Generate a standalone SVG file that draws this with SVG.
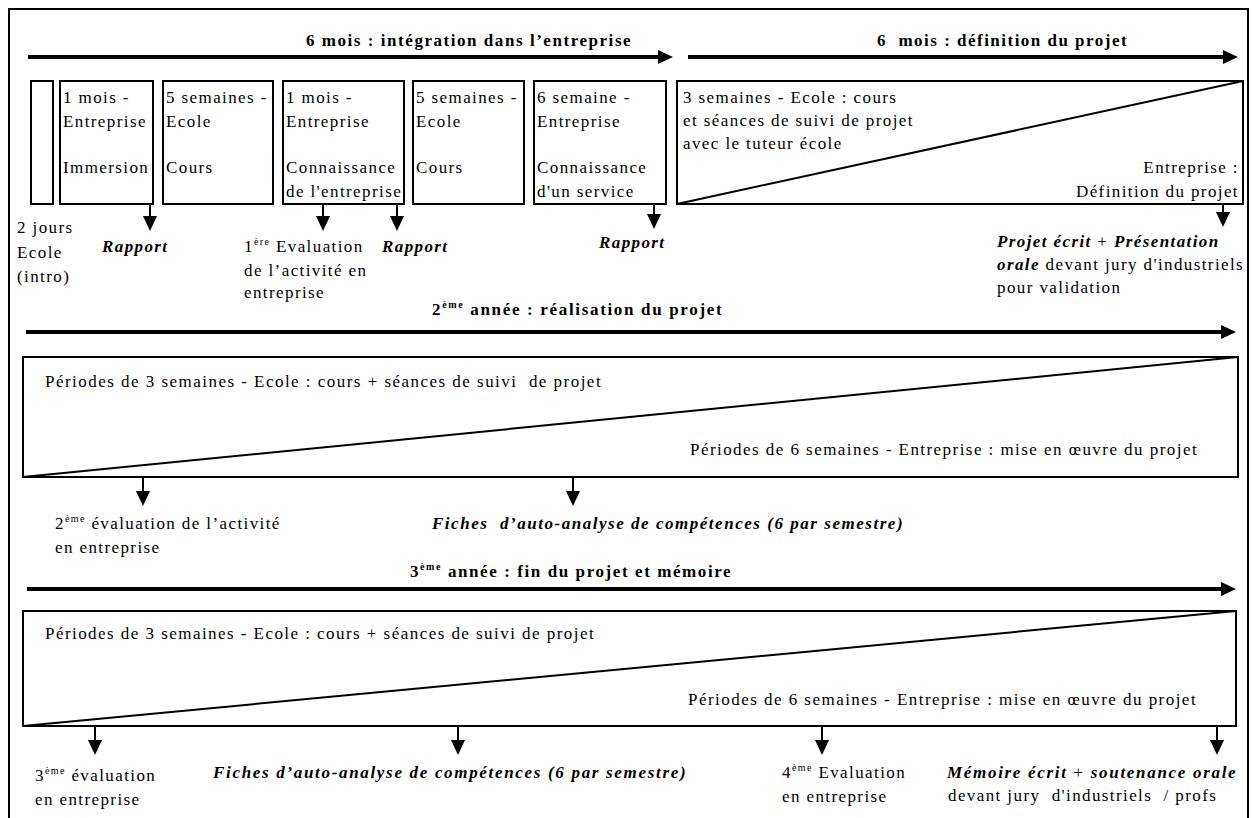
<svg xmlns="http://www.w3.org/2000/svg" width="1253" height="818" viewBox="0 0 1253 818">
<style>
text{font-family:"Liberation Serif","Times New Roman",serif;font-size:17px;fill:#000;letter-spacing:1.4px;white-space:pre}
.b{font-weight:bold}
.bi{font-weight:bold;font-style:italic}
.r{font-weight:normal;font-style:normal}
.sup{font-size:10px}
.e{text-anchor:end}
.box{fill:#fff;stroke:#000;stroke-width:2}
.diag{stroke:#000;stroke-width:2;fill:none}
.tl{stroke:#000;stroke-width:4;fill:none;marker-end:url(#ah)}
.dn{stroke:#000;stroke-width:2;fill:none;marker-end:url(#ah)}
</style>
<defs>
<marker id="ah" viewBox="0 0 15 14" refX="5" refY="7" markerWidth="15" markerHeight="14" markerUnits="userSpaceOnUse" orient="auto"><path d="M0,0L15,7L0,14z" fill="#000"/></marker>
</defs>
<rect x="0" y="0" width="1253" height="818" fill="#fff"/>
<rect id="frame" x="9" y="9" width="1239" height="830" fill="none" stroke="#000" stroke-width="2"/>

<g id="connectors">
<path class="tl" d="M28,57H663"/>
<path class="tl" d="M688,57H1228"/>
<path class="tl" d="M26,332H1226"/>
<path class="tl" d="M27,589H1226"/>
<path class="dn" d="M150,204V221"/>
<path class="dn" d="M323,204V221"/>
<path class="dn" d="M397,204V221"/>
<path class="dn" d="M654,204V219"/>
<path class="dn" d="M1223,204V217"/>
<path class="dn" d="M143,477V496"/>
<path class="dn" d="M573,477V496"/>
<path class="dn" d="M95,726V745"/>
<path class="dn" d="M458,726V745"/>
<path class="dn" d="M822,726V745"/>
<path class="dn" d="M1217,726V745"/>
</g>

<g id="title1"><text class="b" x="306" y="46" textLength="326">6 mois : intégration dans l’entreprise</text></g>
<g id="title2"><text class="b" x="877" y="46" textLength="251">6  mois : définition du projet</text></g>

<g id="box0"><rect class="box" x="31" y="81" width="22" height="123"/></g>
<g id="box1"><rect class="box" x="60" y="81" width="93" height="123"/>
<text x="63" y="103">1 mois -</text><text x="63" y="127">Entreprise</text><text x="63" y="173">Immersion</text></g>
<g id="box2"><rect class="box" x="163" y="81" width="110" height="123"/>
<text x="166" y="103">5 semaines -</text><text x="166" y="127">Ecole</text><text x="166" y="173">Cours</text></g>
<g id="box3"><rect class="box" x="283" y="81" width="121" height="123"/>
<text x="286" y="103">1 mois -</text><text x="286" y="127">Entreprise</text><text x="286" y="173">Connaissance</text><text x="286" y="197">de l'entreprise</text></g>
<g id="box4"><rect class="box" x="413" y="81" width="111" height="123"/>
<text x="416" y="103">5 semaines -</text><text x="416" y="127">Ecole</text><text x="416" y="173">Cours</text></g>
<g id="box5"><rect class="box" x="534" y="81" width="132" height="123"/>
<text x="537" y="103">6 semaine -</text><text x="537" y="127">Entreprise</text><text x="537" y="173">Connaissance</text><text x="537" y="197">d'un service</text></g>
<g id="box6"><rect class="box" x="677" y="81" width="566" height="123"/>
<path class="diag" d="M677,204L1243,81"/>
<text x="683" y="103">3 semaines - Ecole : cours</text><text x="683" y="126">et séances de suivi de projet</text><text x="683" y="149">avec le tuteur école</text>
<text class="e" x="1239" y="173">Entreprise :</text><text class="e" x="1239" y="197">Définition du projet</text></g>

<g id="lbl-2jours"><text x="17" y="233">2 jours</text><text x="17" y="258">Ecole</text><text x="17" y="282">(intro)</text></g>
<g id="lbl-rapport1"><text class="bi" x="102" y="252">Rapport</text></g>
<g id="lbl-eval1"><text x="244" y="252">1<tspan class="sup" dy="-7">ère</tspan><tspan dy="7"> Evaluation</tspan></text><text x="244" y="276">de l’activité en</text><text x="244" y="298">entreprise</text></g>
<g id="lbl-rapport2"><text class="bi" x="382" y="252">Rapport</text></g>
<g id="lbl-rapport3"><text class="bi" x="599" y="248">Rapport</text></g>
<g id="lbl-projet"><text x="997" y="247"><tspan class="bi">Projet écrit</tspan> + <tspan class="bi">Présentation</tspan></text><text x="997" y="270"><tspan class="bi">orale</tspan> devant jury d'industriels</text><text x="997" y="293">pour validation</text></g>

<g id="title3"><text class="b" x="432" y="315" textLength="291">2<tspan class="sup" dy="-7">ème</tspan><tspan dy="7"> année : réalisation du projet</tspan></text></g>
<g id="year2"><rect class="box" x="23" y="357" width="1215" height="120"/>
<path class="diag" d="M23,477L1238,357"/>
<text x="45" y="387" textLength="557">Périodes de 3 semaines - Ecole : cours + séances de suivi  de projet</text>
<text x="690" y="455" textLength="508">Périodes de 6 semaines - Entreprise : mise en œuvre du projet</text></g>
<g id="lbl-eval2"><text x="55" y="529">2<tspan class="sup" dy="-7">ème</tspan><tspan dy="7"> évaluation de l’activité</tspan></text><text x="55" y="553">en entreprise</text></g>
<g id="lbl-fiches1"><text class="bi" x="432" y="529" textLength="472">Fiches  d’auto-analyse de compétences (6 par semestre)</text></g>

<g id="title4"><text class="b" x="410" y="577" textLength="322">3<tspan class="sup" dy="-7">ème</tspan><tspan dy="7"> année : fin du projet et mémoire</tspan></text></g>
<g id="year3"><rect class="box" x="23" y="611" width="1213" height="115"/>
<path class="diag" d="M23,726L1236,611"/>
<text x="45" y="639" textLength="550">Périodes de 3 semaines - Ecole : cours + séances de suivi de projet</text>
<text x="688" y="705" textLength="509">Périodes de 6 semaines - Entreprise : mise en œuvre du projet</text></g>
<g id="lbl-eval3"><text x="35" y="781">3<tspan class="sup" dy="-7">ème</tspan><tspan dy="7"> évaluation</tspan></text><text x="35" y="805">en entreprise</text></g>
<g id="lbl-fiches2"><text class="bi" x="213" y="778" textLength="474">Fiches d’auto-analyse de compétences (6 par semestre)</text></g>
<g id="lbl-eval4"><text x="782" y="778">4<tspan class="sup" dy="-7">ème</tspan><tspan dy="7"> Evaluation</tspan></text><text x="782" y="802">en entreprise</text></g>
<g id="lbl-memoire"><text x="947" y="778" textLength="290"><tspan class="bi">Mémoire écrit</tspan> + <tspan class="bi">soutenance orale</tspan></text><text x="948" y="801">devant jury  d'industriels  / profs</text></g>
</svg>
